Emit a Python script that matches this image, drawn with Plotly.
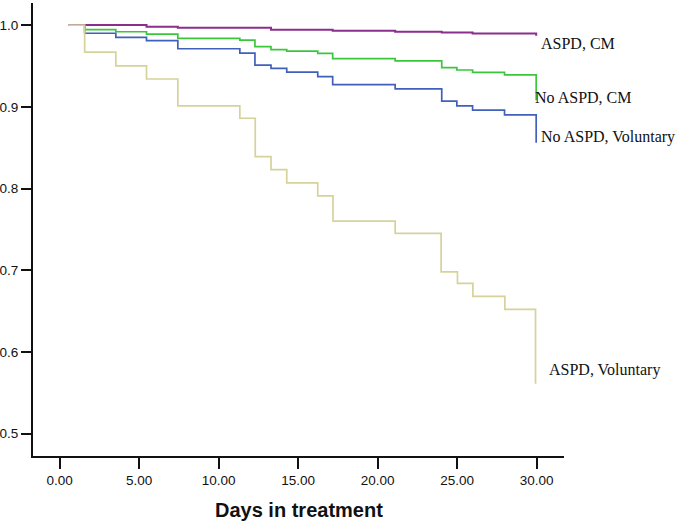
import plotly.graph_objects as go

# ----------------- DATA ----------------- #
aspd_cm_days = [0.57, 1.57, 5.46, 7.43, 13.29, 17.17, 21.1, 24.03, 25.97, 29.97]
aspd_cm_surv = [1.0, 1.0, 0.998, 0.9967, 0.9943, 0.993, 0.9918, 0.991, 0.9898, 0.987]

no_aspd_cm_days = [0.57, 1.57, 3.53, 5.46, 7.43, 11.33, 12.28, 13.29, 14.28, 16.23,
                   17.17, 21.1, 24.03, 24.98, 25.97, 27.98, 29.97]
no_aspd_cm_surv = [1.0, 0.9943, 0.9918, 0.989, 0.9837, 0.9816, 0.9735, 0.970, 0.968, 0.9653,
                   0.959, 0.9563, 0.948, 0.945, 0.942, 0.939, 0.908]

no_aspd_vol_days = [0.57, 1.57, 3.53, 5.46, 7.43, 11.33, 12.28, 13.29, 14.28, 16.23,
                    17.17, 21.1, 24.03, 24.98, 25.97, 27.98, 29.97]
no_aspd_vol_surv = [1.0, 0.990, 0.985, 0.981, 0.971, 0.9657, 0.951, 0.947, 0.9425, 0.937,
                    0.927, 0.922, 0.907, 0.901, 0.896, 0.890, 0.856]

aspd_vol_days = [0.57, 1.57, 3.53, 5.46, 7.43, 11.33, 12.3, 13.29, 14.28, 16.23,
                 17.19, 21.1, 23.99, 25.02, 25.99, 28.0, 29.93]
aspd_vol_surv = [1.0, 0.967, 0.950, 0.934, 0.901, 0.886, 0.839, 0.823, 0.807, 0.791,
                 0.760, 0.745, 0.698, 0.684, 0.668, 0.652, 0.561]

x_ticks = [0, 5, 10, 15, 20, 25, 30]
x_tick_labels = ['0.00', '5.00', '10.00', '15.00', '20.00', '25.00', '30.00']
y_ticks = [0.5, 0.6, 0.7, 0.8, 0.9, 1.0]
y_tick_labels = ['0.5', '0.6', '0.7', '0.8', '0.9', '1.0']

# ----------------- FIGURE ----------------- #
fig = go.Figure()

series = [
    ('No ASPD, CM', no_aspd_cm_days, no_aspd_cm_surv, '#3CC63C', 1.7),
    ('No ASPD, Voluntary', no_aspd_vol_days, no_aspd_vol_surv, '#4060BC', 1.7),
    ('ASPD, CM', aspd_cm_days, aspd_cm_surv, '#8C2E8C', 2.0),
    ('ASPD, Voluntary', aspd_vol_days, aspd_vol_surv, '#D6D29A', 1.7),
]
for name, days, surv, color, width in series:
    fig.add_trace(go.Scatter(x=days, y=surv, mode='lines', name=name,
                             line=dict(color=color, width=width, shape='hv'),
                             showlegend=False, hoverinfo='skip'))

# curve labels at the right end of each curve
labels = [
    ('ASPD, CM', 30.2, 0.9776),
    ('No ASPD, CM', 29.84, 0.911),
    ('No ASPD, Voluntary', 30.2, 0.8633),
    ('ASPD, Voluntary', 30.74, 0.5777),
]
for text, lx, ly in labels:
    fig.add_annotation(x=lx, y=ly, text=text, showarrow=False, xanchor='left',
                       yanchor='middle', borderpad=0,
                       font=dict(family='Liberation Serif, Times New Roman, serif',
                                 size=16, color='#111111'))

# axis title sits centred under the plot
fig.add_annotation(x=0.5, y=-0.119, xref='paper', yref='paper', text='<b>Days in treatment</b>',
                   showarrow=False, xanchor='center', yanchor='middle',
                   font=dict(size=20, family='Liberation Sans, Arial, sans-serif', color='#111111'))

fig.update_layout(
    width=690, height=524,
    margin=dict(l=33, r=126, t=3, b=68),
    plot_bgcolor='white', paper_bgcolor='white',
    font=dict(family='Liberation Sans, Arial, sans-serif', size=13.5, color='#111111'),
)
fig.update_xaxes(range=[-1.68, 31.72], tickvals=x_ticks, ticktext=x_tick_labels,
                 showline=True, linecolor='#111111', linewidth=2, automargin=False,
                 ticks='outside', ticklen=11, tickwidth=2, tickcolor='#111111',
                 showgrid=False, zeroline=False)
fig.update_yaxes(range=[0.4727, 1.027], tickvals=y_ticks, ticktext=y_tick_labels,
                 showline=True, linecolor='#111111', linewidth=2, automargin=False,
                 ticks='outside', ticklen=10, tickwidth=2, tickcolor='#111111',
                 showgrid=False, zeroline=False)

# drop the browser's default page margin so the figure sits at the top-left corner
fig.write_html("out.html", config={'displayModeBar': False},
               post_script="document.body.style.margin='0';")
